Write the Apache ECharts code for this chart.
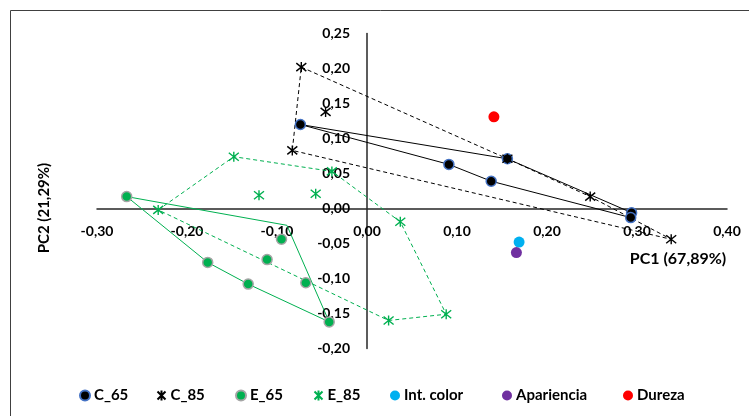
<!DOCTYPE html>
<html>
<head>
<meta charset="utf-8">
<script src="https://cdn.jsdelivr.net/npm/echarts@6/dist/echarts.min.js"></script>
<style>html,body{margin:0;padding:0;background:#fff}#c{width:749px;height:416px}</style>
</head>
<body>
<div id="c"></div>
<script>
// ---- data (PC1, PC2) ----
var seriesNames = ['C_65', 'C_85', 'E_65', 'E_85', 'Int. color', 'Apariencia', 'Dureza'];
var xTicks = [-0.30, -0.20, -0.10, 0.00, 0.10, 0.20, 0.30, 0.40];
var yTicks = [-0.20, -0.15, -0.10, -0.05, 0.00, 0.05, 0.10, 0.15, 0.20, 0.25];

var c65 = [[-0.074, 0.120], [0.156, 0.071], [0.294, -0.006], [0.293, -0.013], [0.138, 0.039], [0.091, 0.063]];
var c85 = [[-0.073, 0.202], [-0.046, 0.138], [-0.083, 0.083], [0.156, 0.071], [0.248, 0.017], [0.338, -0.044]];
var e65 = [[-0.267, 0.017], [-0.095, -0.044], [-0.177, -0.077], [-0.111, -0.073], [-0.132, -0.108], [-0.068, -0.106], [-0.042, -0.162]];
var e85 = [[-0.232, -0.002], [-0.148, 0.074], [-0.120, 0.019], [-0.057, 0.021], [-0.039, 0.053], [0.037, -0.019], [0.088, -0.151], [0.024, -0.160]];
var intColor = [[0.169, -0.048]];
var apariencia = [[0.166, -0.063]];
var dureza = [[0.141, 0.131]];

// group outlines (closed polygons)
var hullC65 = [[-0.074, 0.120], [0.156, 0.071], [0.294, -0.006], [0.293, -0.013], [0.138, 0.039], [0.091, 0.063], [-0.074, 0.120]];
var hullC85 = [[-0.073, 0.202], [0.156, 0.071], [0.248, 0.017], [0.338, -0.044], [-0.083, 0.083], [-0.073, 0.202]];
var hullE65 = [[-0.267, 0.017], [-0.089, -0.024], [-0.042, -0.162], [-0.132, -0.108], [-0.177, -0.077], [-0.267, 0.017]];
var hullE85 = [[-0.232, -0.002], [-0.148, 0.074], [-0.039, 0.053], [0.037, -0.019], [0.088, -0.151], [0.024, -0.160], [-0.232, -0.002]];

var FONT = 'Lato';
var GREEN = '#00B050';
var STAR = 'path://M1,1L9,9M9,1L1,9M5,0L5,10';
function fmt(v) { return (Math.abs(v) < 1e-9 ? 0 : v).toFixed(2).replace('.', ','); }

var GRID = { left: 97, top: 33.5, width: 630, height: 315 };
// pixel offsets so the axes cross at (0,0)
var xOffset = -GRID.height * (0 - yTicks[0]) / (yTicks[yTicks.length - 1] - yTicks[0]);
var yOffset = -GRID.width * (0 - xTicks[0]) / (xTicks[xTicks.length - 1] - xTicks[0]);

var chart = echarts.init(document.getElementById('c'), null, { renderer: 'canvas' });
var lbl = { fontFamily: FONT, fontWeight: 'bold', fontSize: 14, color: '#000' };

function hull(name, data, color, dashed) {
  return {
    name: name, type: 'line', data: data, symbol: 'none', silent: true, z: 1,
    lineStyle: { color: color, width: 1, type: dashed ? [4, 3] : 'solid' }
  };
}

var legendLefts = [79, 155, 235, 312, 390, 502, 623];
var legendIcons = ['circle', STAR, 'circle', STAR, 'circle', 'circle', 'circle'];
var legends = seriesNames.map(function (n, i) {
  return {
    data: [{ name: n, icon: legendIcons[i] }],
    left: legendLefts[i], top: 388, itemWidth: 10, itemHeight: 10, itemGap: 0, padding: 0,
    textStyle: { fontFamily: FONT, fontWeight: 'bold', fontSize: 15, color: '#000', padding: [0, 0, 0, -1] }
  };
});

chart.setOption({
  animation: false,
  backgroundColor: '#fff',
  grid: { left: GRID.left, top: GRID.top, width: GRID.width, height: GRID.height, containLabel: false },
  xAxis: {
    type: 'value', min: xTicks[0], max: xTicks[xTicks.length - 1], interval: 0.1,
    position: 'bottom', offset: xOffset,
    axisLine: { onZero: false, lineStyle: { color: '#262626', width: 1.5 } },
    axisTick: { show: false }, splitLine: { show: false },
    axisLabel: Object.assign({ margin: 16, formatter: fmt, showMinLabel: true, showMaxLabel: true }, lbl)
  },
  yAxis: {
    type: 'value', min: yTicks[0], max: yTicks[yTicks.length - 1], interval: 0.05,
    position: 'left', offset: yOffset,
    axisLine: { show: true, onZero: false, lineStyle: { color: '#262626', width: 1.5 } },
    axisTick: { show: false }, splitLine: { show: false },
    axisLabel: Object.assign({ margin: 17, formatter: fmt, showMinLabel: true, showMaxLabel: true }, lbl)
  },
  legend: legends,
  graphic: [
    { type: 'rect', shape: { x: 10.5, y: 10.5, width: 800, height: 500 }, style: { fill: 'none', stroke: '#404040', lineWidth: 1 }, silent: true, z: -1 },
    { type: 'text', x: 678, y: 259, style: { text: 'PC1 (67,89%)', fontFamily: FONT, fontWeight: 'bold', fontSize: 16, fill: '#000', align: 'center', verticalAlign: 'middle' } },
    { type: 'text', x: 44, y: 208, rotation: Math.PI / 2, style: { text: 'PC2 (21,29%)', fontFamily: FONT, fontWeight: 'bold', fontSize: 15, fill: '#000', align: 'center', verticalAlign: 'middle' } }
  ],
  series: [
    hull('hullC65', hullC65, '#000', false),
    hull('hullC85', hullC85, '#000', true),
    hull('hullE65', hullE65, GREEN, false),
    hull('hullE85', hullE85, GREEN, true),
    { name: seriesNames[0], type: 'scatter', data: c65, symbol: 'circle', symbolSize: 10, z: 3,
      itemStyle: { color: '#000', borderColor: '#4472C4', borderWidth: 1.5, opacity: 1 } },
    { name: seriesNames[1], type: 'scatter', data: c85, symbol: STAR, symbolSize: 10, z: 4,
      itemStyle: { color: 'none', borderColor: '#000', borderWidth: 1.4, opacity: 1 } },
    { name: seriesNames[2], type: 'scatter', data: e65, symbol: 'circle', symbolSize: 10, z: 3,
      itemStyle: { color: GREEN, borderColor: '#A5A5A5', borderWidth: 1.5, opacity: 1 } },
    { name: seriesNames[3], type: 'scatter', data: e85, symbol: STAR, symbolSize: 10, z: 4,
      itemStyle: { color: 'none', borderColor: GREEN, borderWidth: 1.4, opacity: 1 } },
    { name: seriesNames[4], type: 'scatter', data: intColor, symbol: 'circle', symbolSize: 11, z: 3,
      itemStyle: { color: '#00B0F0', opacity: 1 } },
    { name: seriesNames[5], type: 'scatter', data: apariencia, symbol: 'circle', symbolSize: 11, z: 3,
      itemStyle: { color: '#7030A0', opacity: 1 } },
    { name: seriesNames[6], type: 'scatter', data: dureza, symbol: 'circle', symbolSize: 11, z: 3,
      itemStyle: { color: '#FF0000', opacity: 1 } }
  ]
});
</script>
</body>
</html>
